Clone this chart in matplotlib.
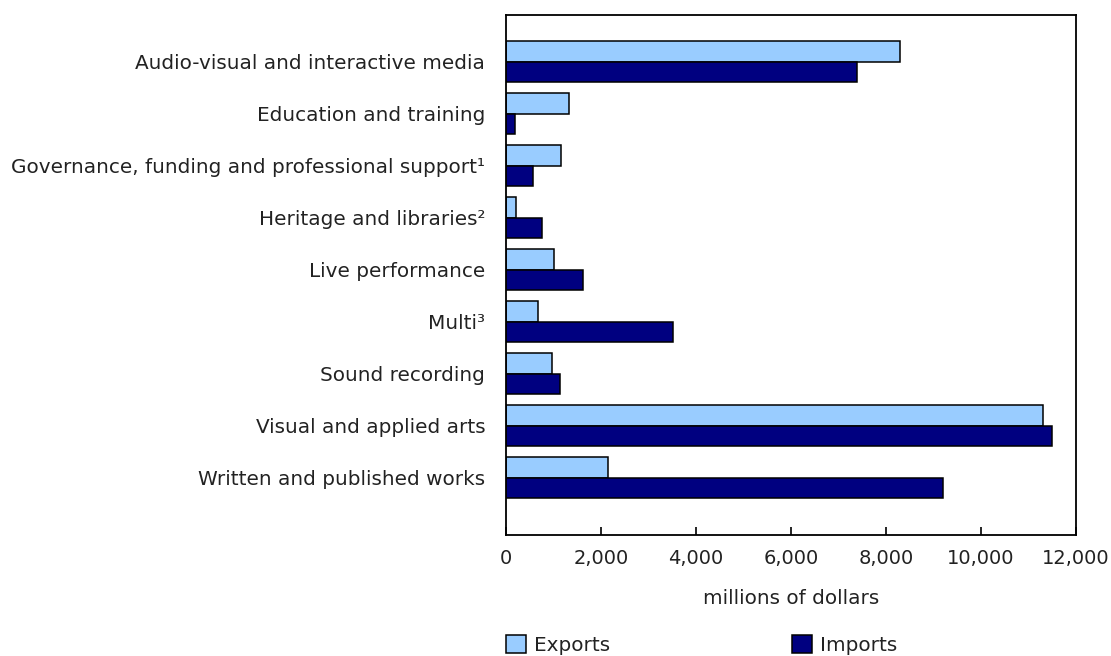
import matplotlib
matplotlib.use("Agg")
import matplotlib.pyplot as plt
from matplotlib.patches import Patch
from matplotlib.ticker import FuncFormatter
import numpy as np

categories = [
    "Audio-visual and interactive media",
    "Education and training",
    "Governance, funding and professional support\u00b9",
    "Heritage and libraries\u00b2",
    "Live performance",
    "Multi\u00b3",
    "Sound recording",
    "Visual and applied arts",
    "Written and published works",
]
exports = [8300, 1320, 1160, 220, 1010, 665, 970, 11305, 2145]
imports = [7380, 180, 575, 760, 1625, 3520, 1145, 11485, 9190]
xticks = [0, 2000, 4000, 6000, 8000, 10000, 12000]

plt.rcParams['font.family'] = ['DejaVu Sans']
FS = 14.4
TFS = 14.0

fig = plt.figure(figsize=(11.11, 6.56), dpi=100)
W, H = 1111, 656
ax = fig.add_axes([506 / W, 1 - 535 / H, (1076 - 506) / W, (535 - 15) / H])

y = np.arange(len(categories))
h = 0.395
ax.barh(y - h / 2, exports, height=h, color="#99CCFF", edgecolor="black", linewidth=1.1)
ax.barh(y + h / 2, imports, height=h, color="#000080", edgecolor="black", linewidth=1.1)

ax.set_ylim(9.1, -0.9)
ax.set_xlim(0, 12000)
ax.set_yticks(y)
ax.set_yticklabels(categories, fontsize=FS, color="#222222")
ax.tick_params(axis='y', length=0, pad=15)
ax.set_xticks(xticks)
ax.xaxis.set_major_formatter(FuncFormatter(lambda v, p: f"{int(v):,}"))
ax.tick_params(axis='x', direction='in', length=6, width=1.2, labelsize=TFS, pad=10,
               labelcolor="#222222")
ax.set_xlabel("millions of dollars", fontsize=FS, labelpad=15, color="#222222")
for s in ax.spines.values():
    s.set_linewidth(1.3)

handles = [Patch(facecolor="#99CCFF", edgecolor="black", linewidth=1.1, label="Exports"),
           Patch(facecolor="#000080", edgecolor="black", linewidth=1.1, label="Imports")]
leg = fig.legend(handles=handles, loc="center left", bbox_to_anchor=(506 / W, 1 - 645 / H),
                 ncol=2, frameon=False, fontsize=FS, handlelength=1.0, handleheight=1.0,
                 handletextpad=0.4, columnspacing=9.1, borderpad=0, borderaxespad=0)
for t in leg.get_texts():
    t.set_color("#222222")

fig.savefig("out.png", dpi=100)
